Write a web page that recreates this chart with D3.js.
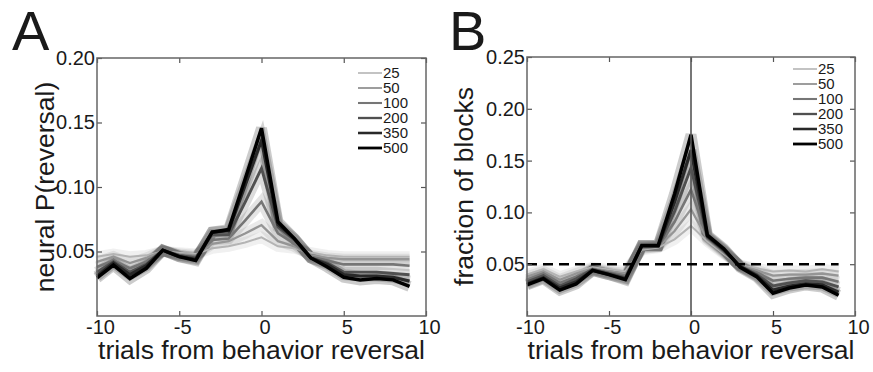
<!DOCTYPE html>
<html>
<head>
<meta charset="utf-8">
<script src="https://cdn.jsdelivr.net/npm/d3@7"></script>
<style>
  body { margin: 0; background: #fff; }
  svg text { font-family: "Liberation Sans", Arial, sans-serif; fill: #1a1a1a; }
</style>
</head>
<body>
<svg id="chart" width="873" height="372"></svg>
<script>
// trials relative to behavior reversal
const trials = d3.range(-10, 10);
const seriesNames = ["25", "50", "100", "200", "350", "500"];

// panel A: neural P(reversal)
const neuralA = {
    "25":  [0.046, 0.048, 0.046, 0.047, 0.050, 0.049, 0.048, 0.0525, 0.054, 0.057, 0.061, 0.054, 0.0525, 0.049, 0.047, 0.046, 0.046, 0.046, 0.046, 0.046],
    "50":  [0.042, 0.046, 0.041, 0.045, 0.0505, 0.048, 0.047, 0.056, 0.058, 0.064, 0.0705, 0.058, 0.054, 0.047, 0.045, 0.044, 0.044, 0.044, 0.044, 0.044],
    "100": [0.038, 0.043, 0.037, 0.042, 0.0505, 0.047, 0.046, 0.059, 0.060, 0.074, 0.0886, 0.064, 0.056, 0.046, 0.043, 0.040, 0.040, 0.040, 0.040, 0.039],
    "200": [0.034, 0.042, 0.034, 0.040, 0.051, 0.047, 0.045, 0.063, 0.063, 0.088, 0.1145, 0.069, 0.059, 0.045, 0.041, 0.034, 0.034, 0.034, 0.033, 0.032],
    "350": [0.031, 0.041, 0.032, 0.039, 0.051, 0.046, 0.044, 0.065, 0.066, 0.101, 0.136, 0.071, 0.060, 0.045, 0.040, 0.032, 0.031, 0.031, 0.030, 0.027],
    "500": [0.0295, 0.0395, 0.029, 0.037, 0.051, 0.046, 0.043, 0.065, 0.067, 0.106, 0.1455, 0.073, 0.060, 0.045, 0.038, 0.030, 0.028, 0.029, 0.028, 0.023]
};

// panel B: fraction of blocks
const fractionB = {
    "25":  [0.040, 0.045, 0.038, 0.043, 0.047, 0.045, 0.043, 0.064, 0.066, 0.074, 0.087, 0.072, 0.060, 0.049, 0.046, 0.043, 0.044, 0.043, 0.045, 0.043],
    "50":  [0.038, 0.043, 0.035, 0.041, 0.046, 0.043, 0.041, 0.065, 0.067, 0.082, 0.103, 0.074, 0.061, 0.049, 0.044, 0.039, 0.040, 0.040, 0.041, 0.039],
    "100": [0.035, 0.041, 0.032, 0.038, 0.045, 0.042, 0.039, 0.066, 0.067, 0.091, 0.122, 0.075, 0.062, 0.048, 0.042, 0.034, 0.036, 0.037, 0.037, 0.033],
    "200": [0.033, 0.039, 0.029, 0.036, 0.045, 0.041, 0.037, 0.067, 0.067, 0.101, 0.143, 0.076, 0.063, 0.048, 0.040, 0.029, 0.032, 0.034, 0.033, 0.028],
    "350": [0.031, 0.037, 0.027, 0.033, 0.044, 0.040, 0.036, 0.068, 0.068, 0.110, 0.160, 0.077, 0.064, 0.048, 0.039, 0.025, 0.029, 0.031, 0.030, 0.023],
    "500": [0.030, 0.036, 0.025, 0.031, 0.044, 0.040, 0.035, 0.068, 0.068, 0.118, 0.175, 0.078, 0.065, 0.047, 0.038, 0.022, 0.027, 0.030, 0.028, 0.020]
};

const xTicks = [-10, -5, 0, 5, 10];
const yTicksA = [0.05, 0.10, 0.15, 0.20];
const yTicksB = [0.05, 0.10, 0.15, 0.20, 0.25];
const chanceLevel = 0.05;

const lineColors = { "25": "#b4b4b4", "50": "#959595", "100": "#767676", "200": "#505050", "350": "#282828", "500": "#000000" };
const lineWidths = { "25": 2, "50": 2.3, "100": 2.6, "200": 2.9, "350": 3.2, "500": 3.5 };

const svg = d3.select("#chart");

function drawPanel(opts) {
    const x = d3.scaleLinear().domain([-10, 10]).range([opts.left, opts.right]);
    const y = d3.scaleLinear().domain(opts.yDomain).range([opts.bottom, opts.top]);
    const g = svg.append("g");

    const line = d3.line()
        .x((d, i) => x(trials[i]))
        .y(d => y(d));

    // soft bands behind every curve
    seriesNames.forEach(name => {
        g.append("path")
            .datum(opts.data[name])
            .attr("fill", "none")
            .attr("stroke", lineColors[name])
            .attr("stroke-opacity", 0.2)
            .attr("stroke-width", 11)
            .attr("stroke-linejoin", "miter")
            .attr("d", line);
    });

    seriesNames.forEach(name => {
        g.append("path")
            .datum(opts.data[name])
            .attr("fill", "none")
            .attr("stroke", lineColors[name])
            .attr("stroke-width", lineWidths[name])
            .attr("stroke-linejoin", "miter")
            .attr("d", line);
    });

    if (opts.chance) {
        g.append("line")
            .attr("x1", x(0)).attr("x2", x(0))
            .attr("y1", y(opts.yDomain[0])).attr("y2", y(opts.yDomain[1]))
            .attr("stroke", "#555").attr("stroke-width", 1.6);
        g.append("line")
            .attr("x1", x(-10)).attr("x2", x(9))
            .attr("y1", y(chanceLevel)).attr("y2", y(chanceLevel))
            .attr("stroke", "#000").attr("stroke-width", 2.6)
            .attr("stroke-dasharray", "10,6");
    }

    // axes, MATLAB style inward ticks on all sides
    const fmtX = d => String(d);
    const fmtY = d3.format(".2f");

    const bottom = g.append("g")
        .attr("transform", "translate(0," + opts.bottom + ")")
        .call(d3.axisBottom(x).tickValues(xTicks).tickSize(-5).tickPadding(4).tickFormat(fmtX));
    bottom.selectAll("text").attr("dx", 3);

    g.append("g")
        .attr("transform", "translate(" + opts.left + ",0)")
        .call(d3.axisLeft(y).tickValues(opts.yTicks).tickSize(-5).tickPadding(2).tickFormat(fmtY));

    g.append("g")
        .attr("transform", "translate(0," + opts.top + ")")
        .call(d3.axisTop(x).tickValues(xTicks).tickSize(-5).tickFormat(""));
    g.append("g")
        .attr("transform", "translate(" + opts.right + ",0)")
        .call(d3.axisRight(y).tickValues(opts.yTicks).tickSize(-5).tickFormat(""));

    g.selectAll(".domain").remove();
    g.selectAll(".tick line").attr("stroke", "#555").attr("stroke-width", 1.2);
    g.selectAll(".tick text").attr("font-size", 20).attr("fill", "#1a1a1a")
        .style("font-family", "'Liberation Sans', Arial, sans-serif");

    g.append("rect")
        .attr("x", opts.left).attr("y", opts.top)
        .attr("width", opts.right - opts.left).attr("height", opts.bottom - opts.top)
        .attr("fill", "none").attr("stroke", "#666").attr("stroke-width", 1.5);

    // legend
    seriesNames.forEach((name, i) => {
        const ly = opts.legendY + i * 15;
        g.append("line")
            .attr("x1", opts.legendX).attr("x2", opts.legendX + 24)
            .attr("y1", ly).attr("y2", ly)
            .attr("stroke", lineColors[name]).attr("stroke-width", lineWidths[name] * 0.8);
        g.append("text")
            .attr("x", opts.legendX + 25).attr("y", ly)
            .attr("dy", "0.36em")
            .attr("font-size", 15)
            .text(name);
    });

    g.append("text")
        .attr("x", (opts.left + opts.right) / 2).attr("y", 359)
        .attr("text-anchor", "middle").attr("font-size", 26.5)
        .text("trials from behavior reversal");

    g.append("text")
        .attr("transform", "translate(" + opts.yLabelX + "," + ((opts.top + opts.bottom) / 2) + ") rotate(-90)")
        .attr("text-anchor", "middle").attr("font-size", 26.5)
        .text(opts.yLabel);

    g.append("text")
        .attr("x", opts.letterX).attr("y", 50)
        .attr("font-size", 56)
        .text(opts.letter);
}

drawPanel({
    letter: "A", letterX: 12,
    left: 97, right: 426, top: 58, bottom: 316,
    yDomain: [0, 0.2], yTicks: yTicksA,
    data: neuralA, chance: false,
    yLabel: "neural P(reversal)", yLabelX: 54,
    legendX: 358, legendY: 73
});

drawPanel({
    letter: "B", letterX: 449,
    left: 527, right: 855, top: 57, bottom: 316,
    yDomain: [0, 0.25], yTicks: yTicksB,
    data: fractionB, chance: true,
    yLabel: "fraction of blocks", yLabelX: 473,
    legendX: 793, legendY: 69
});
</script>
</body>
</html>
